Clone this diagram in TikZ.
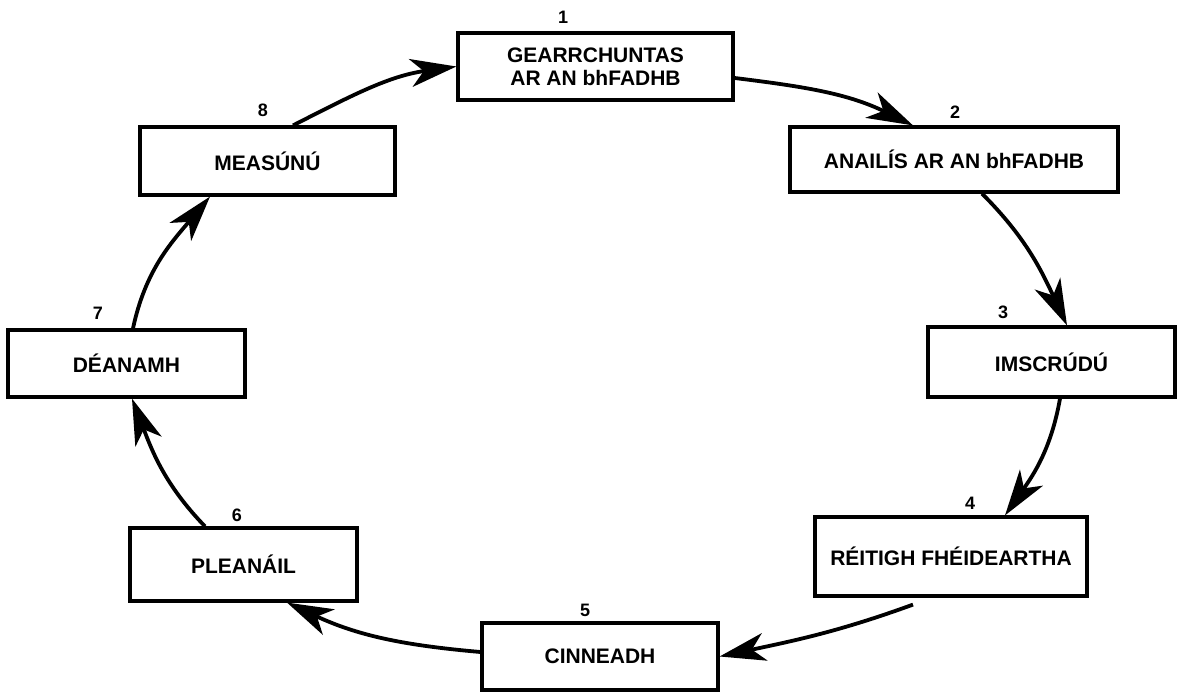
\documentclass[tikz,border=0pt]{standalone}
\usepackage{fontspec}
\setmainfont{Liberation Sans}
\usetikzlibrary{arrows.meta}
\begin{document}
\begin{tikzpicture}[x=1pt,y=1pt,
  stagebox/.style={draw=black, line width=3.2pt, fill=white, inner sep=0pt, align=center,
    font=\fontsize{21}{23}\selectfont\bfseries},
  numlabel/.style={inner sep=0pt, font=\fontsize{18}{20}\selectfont\bfseries},
  flow/.style={line width=3.8pt, -{Stealth[length=46pt, width=28pt, inset=13pt]}}]
\useasboundingbox (0,0) rectangle (1178,-692);
\fill[white] (0,0) rectangle (1178,-692);
% boxes
\node[stagebox, minimum width=275pt, minimum height=67pt] (n1) at (595.5,-66.5) {GEARRCHUNTAS\\AR AN bhFADHB};
\node[stagebox, minimum width=328pt, minimum height=65pt] (n2) at (954,-159.5) {ANAIL\'IS AR AN bhFADHB};
\node[stagebox, minimum width=247pt, minimum height=70pt] (n3) at (1051.5,-362) {IMSCR\'UD\'U};
\node[stagebox, minimum width=272pt, minimum height=79pt] (n4) at (951,-556.5) {R\'EITIGH FH\'EIDEARTHA};
\node[stagebox, minimum width=236pt, minimum height=67pt] (n5) at (600,-656.5) {CINNEADH};
\node[stagebox, minimum width=227pt, minimum height=73pt] (n6) at (243.5,-564.5) {PLEAN\'AIL};
\node[stagebox, minimum width=237pt, minimum height=67pt] (n7) at (126.5,-363.5) {D\'EANAMH};
\node[stagebox, minimum width=255pt, minimum height=68pt] (n8) at (267.5,-161) {MEAS\'UN\'U};
% number labels
\node[numlabel] (l1) at (563,-17) {1};
\node[numlabel] (l2) at (955,-112) {2};
\node[numlabel] (l3) at (1003,-312) {3};
\node[numlabel] (l4) at (970,-503) {4};
\node[numlabel] (l5) at (585,-610) {5};
\node[numlabel] (l6) at (237,-515) {6};
\node[numlabel] (l7) at (98,-313) {7};
\node[numlabel] (l8) at (263,-110) {8};
% connectors
\draw[flow] ([xshift=25.5pt]n8.north) to[out=27, in=188] (n1.west);
\draw[flow] ([yshift=-11.5pt]n1.east) to[out=-7, in=154] ([xshift=-41pt]n2.north);
\draw[flow] ([xshift=28pt]n2.south) to[out=-45, in=115] ([xshift=15.5pt]n3.north);
\draw[flow] ([xshift=8.5pt]n3.south) to[out=-100, in=55] ([xshift=54pt]n4.north);
\draw[flow] ([xshift=-38pt,yshift=-7pt]n4.south) to[out=200, in=12] (n5.east);
\draw[flow] ([yshift=4.5pt]n5.west) to[out=175, in=-25] ([xshift=43.5pt]n6.south);
\draw[flow] ([xshift=-38.5pt]n6.north) to[out=134, in=-69] ([xshift=5.5pt]n7.south);
\draw[flow] ([xshift=6.5pt]n7.north) to[out=78, in=-130] ([xshift=-57.5pt]n8.south);
\end{tikzpicture}
\end{document}
